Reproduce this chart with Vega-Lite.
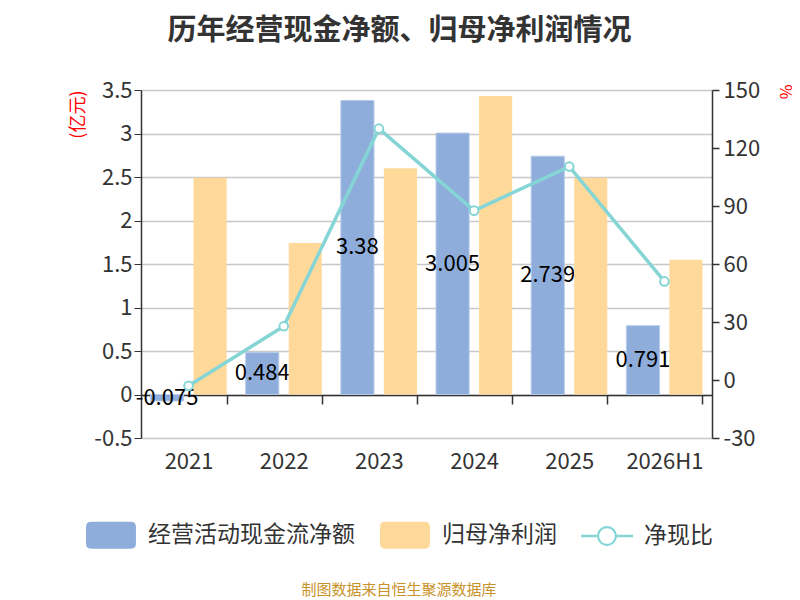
{
  "$schema": "https://vega.github.io/schema/vega-lite/v6.json",
  "width": 571,
  "height": 348,
  "autosize": {"type": "none"},
  "padding": {"left": 141, "top": 90, "right": 88, "bottom": 162},
  "background": "white",
  "title": {
    "text": "历年经营现金净额、归母净利润情况",
    "fontSize": 29,
    "fontWeight": "bold",
    "color": "#333333",
    "font": "Noto Sans CJK SC",
    "anchor": "middle",
    "dx": -27,
    "offset": 33
  },
  "datasets": {
    "bars": [
      {"year": "2021", "type": "经营活动现金流净额", "value": -0.075},
      {"year": "2022", "type": "经营活动现金流净额", "value": 0.484},
      {"year": "2023", "type": "经营活动现金流净额", "value": 3.38},
      {"year": "2024", "type": "经营活动现金流净额", "value": 3.005},
      {"year": "2025", "type": "经营活动现金流净额", "value": 2.739},
      {"year": "2026H1", "type": "经营活动现金流净额", "value": 0.791},
      {"year": "2021", "type": "归母净利润", "value": 2.49},
      {"year": "2022", "type": "归母净利润", "value": 1.74},
      {"year": "2023", "type": "归母净利润", "value": 2.6},
      {"year": "2024", "type": "归母净利润", "value": 3.43},
      {"year": "2025", "type": "归母净利润", "value": 2.49},
      {"year": "2026H1", "type": "归母净利润", "value": 1.55}
    ],
    "ratio": [
      {"year": "2021", "ratio": -3.0},
      {"year": "2022", "ratio": 27.8},
      {"year": "2023", "ratio": 130.0},
      {"year": "2024", "ratio": 87.6},
      {"year": "2025", "ratio": 110.4},
      {"year": "2026H1", "ratio": 51.0}
    ]
  },
  "config": {
    "font": "Noto Sans CJK SC",
    "view": {"stroke": null},
    "axis": {"labelFont": "Noto Sans CJK SC", "titleFont": "Noto Sans CJK SC"}
  },
  "layer": [
    {
      "data": {"name": "bars"},
      "encoding": {
        "x": {
          "field": "year",
          "type": "nominal",
          "sort": null,
          "scale": {"paddingInner": 0.2, "paddingOuter": 0.1},
          "axis": {
            "title": null,
            "offset": -43,
            "labelAngle": 0,
            "labelFontSize": 22,
            "labelColor": "#333333",
            "labelPadding": 47,
            "domainColor": "#333333",
            "domainWidth": 1.5,
            "tickColor": "#333333",
            "tickWidth": 1.5,
            "tickSize": 9,
            "tickBand": "extent",
            "grid": false
          }
        },
        "xOffset": {
          "field": "type",
          "type": "nominal",
          "scale": {"domain": ["经营活动现金流净额", "归母净利润"], "paddingInner": 0.23, "paddingOuter": 0}
        }
      },
      "layer": [
        {
          "transform": [{"filter": "datum.type === '经营活动现金流净额'"}],
          "mark": {"type": "bar", "stroke": "#b7cbea", "strokeWidth": 1},
          "encoding": {
            "y": {
              "field": "value",
              "type": "quantitative",
              "scale": {"domain": [-0.5, 3.5], "nice": false, "zero": false},
              "axis": {
                "title": "(亿元)",
                "titleColor": "red",
                "titleFontSize": 18,
                "titleFontWeight": "normal",
                "titleAnchor": "end",
                "titlePadding": 6,
                "values": [-0.5, 0, 0.5, 1, 1.5, 2, 2.5, 3, 3.5],
                "labelExpr": "'' + datum.value",
                "labelFontSize": 22,
                "labelColor": "#333333",
                "labelPadding": 2,
                "domainColor": "#333333",
                "domainWidth": 1.5,
                "tickColor": "#333333",
                "tickSize": 7,
                "gridColor": "#c8c8c8",
                "gridWidth": 1.3
              }
            },
            "color": {
              "field": "type",
              "type": "nominal",
              "scale": {
                "domain": ["经营活动现金流净额", "归母净利润", "净现比"],
                "range": ["#8eaddb", "#ffd999", "#86d5d6"]
              },
              "legend": {
                "title": "制图数据来自恒生聚源数据库",
                "titleOrient": "bottom",
                "titleAnchor": "middle",
                "titleColor": "#c8922a",
                "titleFontSize": 15,
                "titleFontWeight": "normal",
                "titleLimit": 600,
                "titlePadding": 34,
                "orient": "none",
                "legendX": -56,
                "legendY": 419,
                "direction": "horizontal",
                "labelFontSize": 23,
                "labelColor": "#333333",
                "labelLimit": 400,
                "labelOffset": 11,
                "columnPadding": 24,
                "symbolSize": 2704,
                "symbolStrokeWidth": 0,
                "symbolOpacity": 1,
                "symbolType": {"expr": "datum.value === '净现比' ? 'M-1,-0.05 H-0.38 V0.05 H-1 Z M0.38,-0.05 H1 V0.05 H0.38 Z M-0.38,0 A0.38,0.38 0 1,0 0.38,0 A0.38,0.38 0 1,0 -0.38,0 Z M-0.3,0 A0.3,0.3 0 1,1 0.3,0 A0.3,0.3 0 1,1 -0.3,0 Z' : 'M-0.76,-0.52 H0.76 Q0.96,-0.52 0.96,-0.32 V0.32 Q0.96,0.52 0.76,0.52 H-0.76 Q-0.96,0.52 -0.96,0.32 V-0.32 Q-0.96,-0.52 -0.76,-0.52 Z'"}
              }
            }
          }
        },
        {
          "transform": [
            {"filter": "datum.type === '经营活动现金流净额'"},
            {"calculate": "datum.value / 2", "as": "labelPos"}
          ],
          "mark": {"type": "text", "fontSize": 22, "color": "#000000", "baseline": "middle", "align": "center"},
          "encoding": {
            "y": {"field": "labelPos", "type": "quantitative"},
            "text": {"field": "value", "type": "nominal"}
          }
        },
        {
          "transform": [{"filter": "datum.type === '归母净利润'"}],
          "mark": {"type": "bar"},
          "encoding": {
            "y": {"field": "value", "type": "quantitative"},
            "color": {"field": "type", "type": "nominal"}
          }
        },
        {
          "mark": {"type": "rule", "color": "#333333", "strokeWidth": 1.5},
          "encoding": {"y": {"datum": 0}}
        }
      ]
    },
    {
      "data": {"name": "ratio"},
      "mark": {
        "type": "line",
        "strokeWidth": 3.5,
        "point": {"filled": false, "fill": "white", "size": 75, "strokeWidth": 2}
      },
      "encoding": {
        "x": {"field": "year", "type": "nominal", "sort": null},
        "y": {
          "field": "ratio",
          "type": "quantitative",
          "scale": {"domain": [-30, 150], "nice": false, "zero": false},
          "axis": {
            "orient": "right",
            "title": "%",
            "titleColor": "red",
            "titleFontSize": 16,
            "titleFontWeight": "normal",
            "titleAnchor": "end",
            "titleAlign": "left",
            "titleY": -6,
            "titlePadding": 17,
            "values": [-30, 0, 30, 60, 90, 120, 150],
            "labelExpr": "'' + datum.value",
            "labelFontSize": 22,
            "labelColor": "#333333",
            "labelPadding": 4,
            "domainColor": "#333333",
            "domainWidth": 1.5,
            "tickColor": "#333333",
            "tickWidth": 1.5,
            "tickSize": 7,
            "grid": false
          }
        },
        "color": {"datum": "净现比"}
      }
    }
  ],
  "resolve": {"scale": {"y": "independent"}}
}
